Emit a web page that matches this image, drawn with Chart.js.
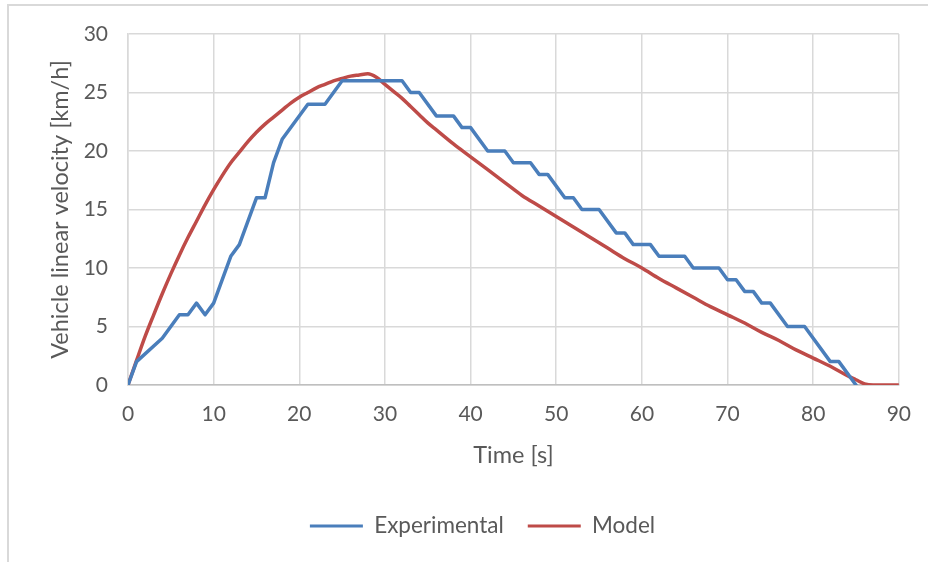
<!DOCTYPE html>
<html>
<head>
<meta charset="utf-8">
<script src="https://cdn.jsdelivr.net/npm/chart.js@4/dist/chart.umd.min.js"></script>
<style>
  html, body { margin: 0; padding: 0; background: #ffffff; }
  #wrap { width: 928px; height: 562px; position: relative; }
</style>
</head>
<body>
<div id="wrap"><canvas id="chart" width="928" height="562"></canvas></div>
<script>
// Measured run: time [s] and vehicle speed [km/h]
const expTime  = [0, 1, 4, 6, 7, 8, 9, 10, 12, 13, 15, 16, 17, 18, 21, 23, 25, 32, 33, 34, 36, 38, 39, 40, 42, 44, 45, 47, 48, 49, 51, 52, 53, 55, 57, 58, 59, 61, 62, 65, 66, 69, 70, 71, 72, 73, 74, 75, 77, 79, 82, 83, 85];
const expSpeed = [0, 2, 4, 6, 6, 7, 6, 7, 11, 12, 16, 16, 19, 21, 24, 24, 26, 26, 25, 25, 23, 23, 22, 22, 20, 20, 19, 19, 18, 18, 16, 16, 15, 15, 13, 13, 12, 12, 11, 11, 10, 10, 9, 9, 8, 8, 7, 7, 5, 5, 2, 2, 0];

// Simulated run
const modelTime  = [0, 1, 2, 3, 4, 5, 6, 7, 8, 9, 10, 11, 12, 13, 14, 15, 16, 17, 18, 19, 20, 21, 22, 23, 24, 25, 26, 27, 28, 29, 30, 31, 32, 33, 34, 35, 36, 38, 40, 42, 44, 46, 48, 50, 52, 54, 56, 58, 60, 62, 64, 66, 68, 70, 72, 74, 76, 78, 80, 82, 84, 85, 86, 87, 88, 89, 90];
const modelSpeed = [0, 2.1, 4.15, 6.0, 7.8, 9.5, 11.1, 12.6, 14.0, 15.4, 16.7, 17.9, 19.0, 19.9, 20.8, 21.6, 22.3, 22.9, 23.5, 24.1, 24.6, 25.0, 25.4, 25.7, 26.0, 26.2, 26.4, 26.5, 26.6, 26.3, 25.7, 25.1, 24.5, 23.8, 23.1, 22.4, 21.8, 20.6, 19.5, 18.4, 17.3, 16.2, 15.3, 14.4, 13.5, 12.6, 11.7, 10.8, 10.0, 9.1, 8.3, 7.5, 6.7, 6.0, 5.3, 4.5, 3.8, 3.0, 2.3, 1.6, 0.8, 0.45, 0.1, 0, 0, 0, 0];

const timeTicks = [0, 10, 20, 30, 40, 50, 60, 70, 80, 90];
const speedTicks = [0, 5, 10, 15, 20, 25, 30];

const FONT = 'Lato, "Open Sans", sans-serif';
const TEXT = '#595959';
const GRID = '#D9D9D9';

const toPoints = (xs, ys) => xs.map((x, i) => ({ x: x, y: ys[i] }));

// Light frame around the whole chart object
const frame = {
  id: 'frame',
  beforeDraw(chart) {
    const ctx = chart.ctx;
    ctx.save();
    ctx.strokeStyle = '#D9D9D9';
    ctx.lineWidth = 2;
    ctx.beginPath();
    ctx.moveTo(8, 562);
    ctx.lineTo(8, 5);
    ctx.lineTo(928, 5);
    ctx.stroke();
    ctx.restore();
  }
};

// Fixed legend band height and a small horizontal offset of the legend row
const legendPlacement = {
  id: 'legendPlacement',
  afterInit(chart) {
    const lg = chart.legend;
    const fit = lg.fit.bind(lg);
    lg.fit = function () { fit(); this.height = 56.5; };
  },
  afterLayout(chart) {
    const lg = chart.legend;
    lg.left += 32;
    lg.right += 32;
  }
};

new Chart(document.getElementById('chart'), {
  type: 'line',
  data: {
    datasets: [
      {
        label: 'Experimental',
        data: toPoints(expTime, expSpeed),
        borderColor: '#4A7EBB',
        backgroundColor: '#4A7EBB',
        borderWidth: 3.5,
        pointRadius: 0,
        tension: 0,
        borderJoinStyle: 'round',
        borderCapStyle: 'round'
      },
      {
        label: 'Model',
        data: toPoints(modelTime, modelSpeed),
        borderColor: '#BE4B48',
        backgroundColor: '#BE4B48',
        borderWidth: 3.5,
        pointRadius: 0,
        cubicInterpolationMode: 'monotone',
        borderJoinStyle: 'round',
        borderCapStyle: 'round'
      }
    ]
  },
  options: {
    responsive: false,
    animation: false,
    layout: { padding: { left: 0, right: 27, top: 34, bottom: 14.75 } },
    plugins: {
      tooltip: { enabled: false },
      legend: {
        position: 'bottom',
        labels: {
          color: TEXT,
          font: { family: FONT, size: 22.5 },
          boxWidth: 53,
          boxHeight: 3,
          padding: 24,
          generateLabels(chart) {
            return chart.data.datasets.map((ds, i) => ({
              text: ds.label,
              fillStyle: ds.borderColor,
              strokeStyle: ds.borderColor,
              lineWidth: 0,
              fontColor: TEXT,
              datasetIndex: i
            }));
          }
        }
      }
    },
    scales: {
      x: {
        type: 'linear',
        min: 0,
        max: 90,
        afterBuildTicks(scale) { scale.ticks = timeTicks.map(v => ({ value: v })); },
        afterFit(scale) { scale.height = 105.75; },
        ticks: { color: TEXT, font: { family: FONT, size: 21 }, padding: 17, maxRotation: 0 },
        grid: { color: GRID, lineWidth: 1.5, drawTicks: false },
        border: { color: '#BFBFBF', width: 1.5 },
        title: {
          display: true,
          text: 'Time [s]',
          color: TEXT,
          font: { family: FONT, size: 23.5 },
          padding: { top: 0, bottom: 21.6 }
        }
      },
      y: {
        type: 'linear',
        min: 0,
        max: 30,
        afterBuildTicks(scale) { scale.ticks = speedTicks.map(v => ({ value: v })); },
        afterFit(scale) { scale.width = 128; },
        ticks: { color: TEXT, font: { family: FONT, size: 21 }, padding: 20 },
        grid: { color: GRID, lineWidth: 1.5, drawTicks: false },
        border: { color: GRID, width: 1.5 },
        title: {
          display: true,
          text: 'Vehicle linear velocity [km/h]',
          color: TEXT,
          font: { family: FONT, size: 23.5 },
          padding: { top: 46, bottom: 0 }
        }
      }
    }
  },
  plugins: [frame, legendPlacement]
});
</script>
</body>
</html>
